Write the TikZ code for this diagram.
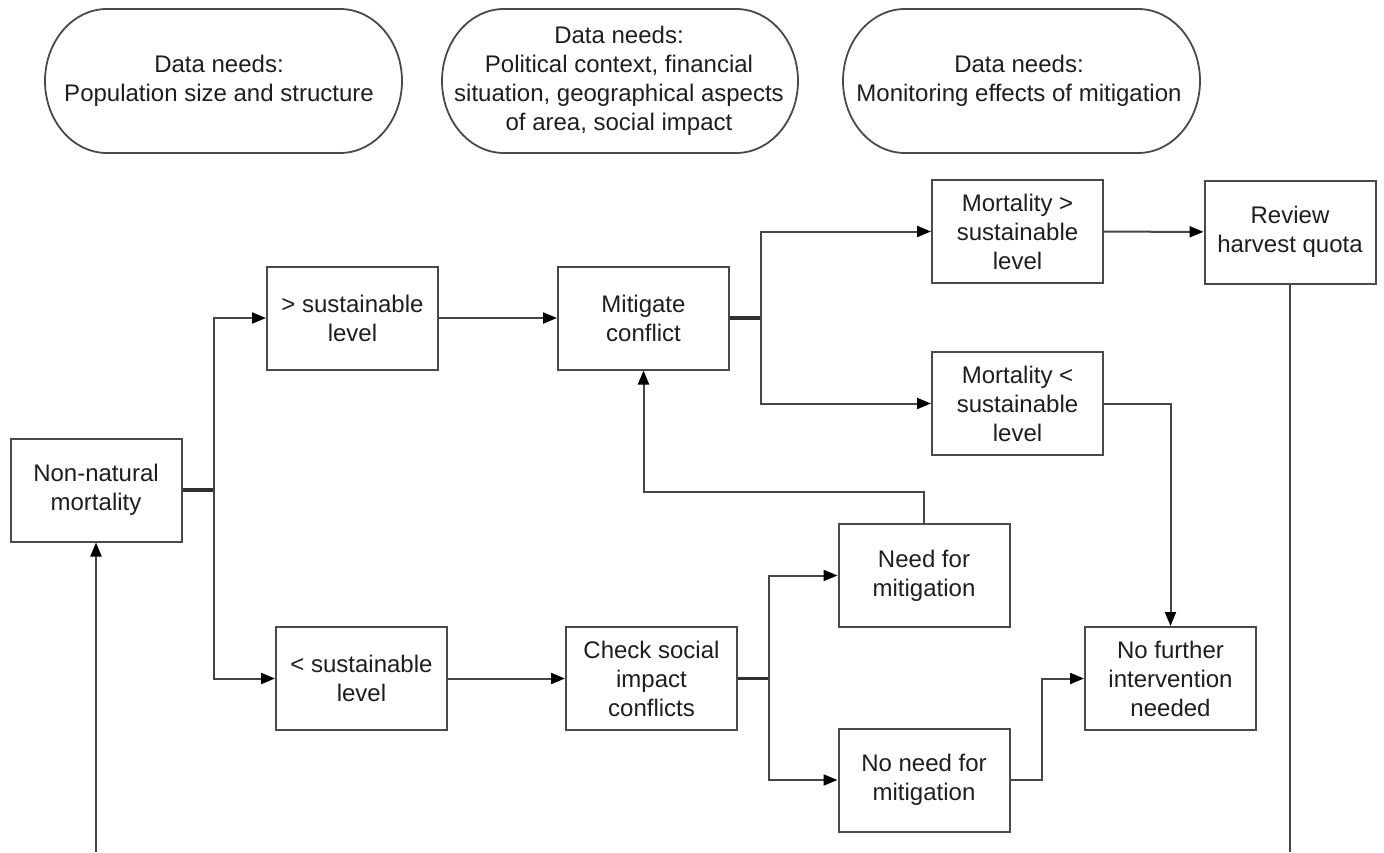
\documentclass[tikz,border=0pt]{standalone}
\usepackage{fontspec}
\setmainfont{Liberation Sans}
\usetikzlibrary{arrows.meta}
\definecolor{linegray}{HTML}{454545}
\definecolor{boxgray}{HTML}{4A4A4A}
\definecolor{txt}{HTML}{1E1E1E}
\begin{document}
\begin{tikzpicture}[x=1pt,y=-1pt,
  txtfont/.style={font=\fontsize{24}{29}\selectfont, text=txt},
  stepbox/.style={txtfont, draw=boxgray, line width=2pt, minimum width=171pt, minimum height=103pt, inner sep=0pt, align=center},
  pill/.style={txtfont, align=center, inner sep=0pt},
  conn/.style={draw=linegray, line width=2pt},
  arr/.style={conn, -{Triangle[length=14pt,width=11pt,black]}},
  stub/.style={draw=linegray!70!black, line width=3.2pt}
]
\useasboundingbox[fill=white] (0,0) rectangle (1384,852);

% data-needs pills
\newcommand{\pillshape}[4]{% x1, x2, top, bottom
  \draw[boxgray, line width=1.8pt] (#1+62,#3) -- (#2-62,#3)
    arc[start angle=90, end angle=-90, x radius=62pt, y radius=72pt]
    -- (#1+62,#4)
    arc[start angle=270, end angle=90, x radius=62pt, y radius=72pt] -- cycle;}
\pillshape{45}{402}{9}{153}
\pillshape{442}{798}{9}{153}
\pillshape{843}{1200}{9}{153}
\node[pill] (d1) at (219,81) {Data needs:\\Population size and structure};
\node[pill] (d2) at (619,81) {Data needs:\\Political context, financial\\situation, geographical aspects\\of area, social impact};
\node[pill] (d3) at (1019,81) {Data needs:\\Monitoring effects of mitigation};

% boxes
\node[stepbox] (nn) at (96,490) {Non-natural\\mortality};
\node[stepbox] (gt) at (352.5,318) {> sustainable\\level};
\node[stepbox] (lt) at (361.5,678.5) {< sustainable\\level};
\node[stepbox] (mit) at (643.5,318) {Mitigate\\conflict};
\node[stepbox] (chk) at (651.5,678.5) {Check social\\impact\\conflicts};
\node[stepbox] (mgt) at (1017.5,231.5) {Mortality >\\sustainable\\level};
\node[stepbox] (rev) at (1290,232) {Review\\harvest quota};
\node[stepbox] (mlt) at (1017.5,403.5) {Mortality <\\sustainable\\level};
\node[stepbox] (need) at (924,575.5) {Need for\\mitigation};
\node[stepbox] (noneed) at (924,780) {No need for\\mitigation};
\node[stepbox] (nofur) at (1170.5,678.5) {No further\\intervention\\needed};

% branch points
\coordinate (b1) at (214,490);
\coordinate (b2) at (761,318);
\coordinate (b3) at (769,678.5);
\coordinate (b4) at (1042,780);
\coordinate (r1) at (924,492);
\coordinate (bot) at (0,852);

\draw[stub] (nn.east) -- (b1);
\draw[arr] (b1) |- (gt.west);
\draw[arr] (b1) |- (lt.west);
\draw[arr] (gt) -- (mit);
\draw[stub] (mit.east) -- (b2);
\draw[arr] (b2) |- (mgt.west);
\draw[arr] (b2) |- (mlt.west);
\draw[arr] (mgt) -- (rev);
\draw[conn] (rev.south) -- (rev.south |- bot);
\draw[arr] (nn.south |- bot) -- (nn.south);
\draw[arr] (mlt.east) -| (nofur.north);
\draw[arr] (lt) -- (chk);
\draw[stub] (chk.east) -- (b3);
\draw[arr] (b3) |- (need.west);
\draw[arr] (b3) |- (noneed.west);
\draw[arr] (need.north) -- (r1) -| (mit.south);
\draw[arr] (noneed.east) -- (b4) |- (nofur.west);
\end{tikzpicture}
\end{document}
